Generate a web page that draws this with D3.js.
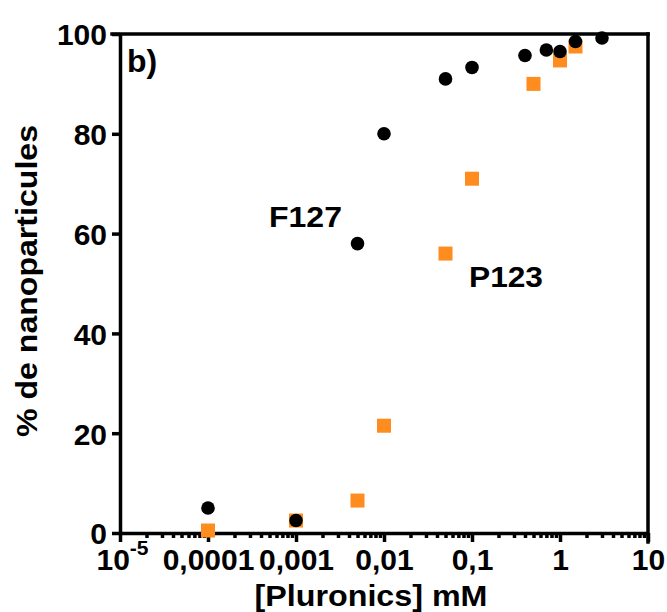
<!DOCTYPE html>
<html>
<head>
<meta charset="utf-8">
<script src="https://cdn.jsdelivr.net/npm/d3@7"></script>
<style>
  html, body { margin: 0; padding: 0; background: #fff; }
  svg text { font-family: "Liberation Sans", Arial, Helvetica, sans-serif; font-weight: bold; fill: #000; }
</style>
</head>
<body>
<svg id="chart" width="667" height="612"></svg>
<script>
// Concentration (mM) and % of nanoparticles for each Pluronic
const f127Conc = [0.0001, 0.001, 0.005, 0.01, 0.05, 0.1, 0.4, 0.7, 1, 1.5, 3];
const f127Pct  = [5, 2.5, 58, 80, 91, 93.3, 95.7, 96.8, 96.5, 98.5, 99.2];
const p123Conc = [0.0001, 0.001, 0.005, 0.01, 0.05, 0.1, 0.5, 1, 1.5];
const p123Pct  = [0.5, 2.5, 6.5, 21.5, 56, 71, 90, 94.7, 97.5];

const xTickValues = [1e-5, 1e-4, 1e-3, 1e-2, 1e-1, 1, 10];
const xTickLabels = ["10", "0,0001", "0,001", "0,01", "0,1", "1", "10"];
const yTickValues = [0, 20, 40, 60, 80, 100];

const svg = d3.select("#chart");
const x = d3.scaleLog().domain([1e-5, 10]).range([120, 648]);
const y = d3.scaleLinear().domain([0, 100]).range([533, 34]);

const AXIS_W = 3.5;

// minor ticks (2..9 in each decade)
const minor = [];
for (let e = -5; e < 1; e++) for (let k = 2; k <= 9; k++) minor.push(k * Math.pow(10, e));

const gMinor = svg.append("g").attr("transform", `translate(0,${y(0)})`)
  .call(d3.axisBottom(x).tickValues(minor).tickSize(5).tickSizeOuter(0).tickFormat(""));
gMinor.select(".domain").remove();
gMinor.selectAll(".tick line").attr("stroke", "#000").attr("stroke-width", AXIS_W);

const gx = svg.append("g").attr("transform", `translate(0,${y(0)})`)
  .call(d3.axisBottom(x).tickValues(xTickValues).tickSize(9).tickSizeOuter(0)
    .tickFormat((d, i) => xTickLabels[i]));
gx.select(".domain").attr("stroke", "#000").attr("stroke-width", AXIS_W);
gx.selectAll(".tick line").attr("stroke", "#000").attr("stroke-width", AXIS_W);
gx.selectAll(".tick text")
  .attr("y", 0).attr("dy", 0)
  .attr("transform", "translate(0,37)")
  .style("font-size", "30px").attr("fill", "#000");

// 10^-5 with superscript
gx.selectAll(".tick text").filter((d, i) => i === 0)
  .text(null)
  .attr("text-anchor", "middle")
  .attr("transform", "translate(2,37)")
  .call(t => {
    t.append("tspan").text(xTickLabels[0]);
    t.append("tspan").attr("dy", -15).style("font-size", "21px").text("-5");
  });

const gy = svg.append("g").attr("transform", `translate(${x(1e-5)},0)`)
  .call(d3.axisLeft(y).tickValues(yTickValues).tickSize(8).tickSizeOuter(0).tickPadding(5));
gy.select(".domain").attr("stroke", "#000").attr("stroke-width", AXIS_W);
gy.selectAll(".tick line").attr("stroke", "#000").attr("stroke-width", AXIS_W);
gy.selectAll(".tick text").style("font-size", "30px").attr("fill", "#000").attr("dy", "0.36em");

// top and right frame
svg.append("line").attr("x1", x(1e-5) - 8).attr("x2", x(10))
  .attr("y1", y(100)).attr("y2", y(100))
  .attr("stroke", "#000").attr("stroke-width", AXIS_W).attr("stroke-linecap", "square");
svg.append("line").attr("x1", x(10)).attr("x2", x(10))
  .attr("y1", y(100)).attr("y2", y(0) + 9)
  .attr("stroke", "#000").attr("stroke-width", AXIS_W).attr("stroke-linecap", "square");

// axis titles
svg.append("text").attr("x", 371).attr("y", 606).attr("text-anchor", "middle")
  .style("font-size", "30px").attr("textLength", 233).attr("lengthAdjust", "spacingAndGlyphs")
  .text("[Pluronics] mM");
svg.append("text").attr("transform", "translate(37,281) rotate(-90)").attr("text-anchor", "middle")
  .style("font-size", "30px").attr("textLength", 312).attr("lengthAdjust", "spacingAndGlyphs")
  .text("% de nanoparticules");

// panel letter and series labels
svg.append("text").attr("x", 127).attr("y", 72).style("font-size", "32px").text("b)");
svg.append("text").attr("x", 269).attr("y", 227).style("font-size", "30px")
  .attr("textLength", 73).attr("lengthAdjust", "spacingAndGlyphs").text("F127");
svg.append("text").attr("x", 469).attr("y", 287).style("font-size", "30px")
  .attr("textLength", 74).attr("lengthAdjust", "spacingAndGlyphs").text("P123");

// P123 squares
const sq = 14;
svg.append("g").selectAll("rect").data(p123Conc.map((c, i) => [c, p123Pct[i]]))
  .join("rect")
  .attr("x", d => x(d[0]) - sq / 2).attr("y", d => y(d[1]) - sq / 2)
  .attr("width", sq).attr("height", sq).attr("fill", "#FF8C1E");

// F127 circles
svg.append("g").selectAll("circle").data(f127Conc.map((c, i) => [c, f127Pct[i]]))
  .join("circle")
  .attr("cx", d => x(d[0])).attr("cy", d => y(d[1])).attr("r", 6.8).attr("fill", "#000");
</script>
</body>
</html>
